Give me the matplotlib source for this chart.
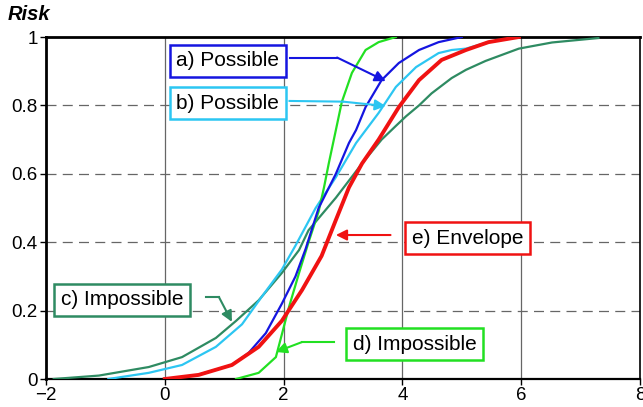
import matplotlib
matplotlib.use("Agg")
import matplotlib.pyplot as plt

plt.rcParams['font.family'] = ['Liberation Sans', 'DejaVu Sans']

# Data
a_x = [0.6, 1.13, 1.41, 1.7, 1.97, 2.2, 2.37, 2.59, 2.88, 3.1, 3.22, 3.38, 3.65, 3.94, 4.28, 4.61, 5.0]
a_y = [0.014, 0.041, 0.076, 0.134, 0.22, 0.30, 0.38, 0.50, 0.60, 0.69, 0.728, 0.795, 0.874, 0.924, 0.962, 0.985, 1.0]

b_x = [-0.95, -0.27, 0.29, 0.86, 1.3, 1.63, 1.97, 2.2, 2.54, 2.88, 3.22, 3.6, 3.89, 4.23, 4.61, 4.83, 5.07, 5.45, 5.96]
b_y = [0.0, 0.018, 0.041, 0.094, 0.16, 0.24, 0.32, 0.39, 0.50, 0.59, 0.69, 0.778, 0.854, 0.912, 0.953, 0.962, 0.966, 0.985, 1.0]

c_x = [-1.87, -1.11, -0.27, 0.29, 0.86, 1.2, 1.58, 1.97, 2.26, 2.42, 2.88, 3.32, 3.65, 3.89, 4.06, 4.28, 4.49, 4.83, 5.07, 5.4, 5.96, 6.52, 7.3]
c_y = [0.0, 0.01, 0.035, 0.064, 0.12, 0.17, 0.23, 0.31, 0.377, 0.435, 0.53, 0.63, 0.70, 0.74, 0.768, 0.80, 0.835, 0.88, 0.904, 0.93, 0.966, 0.984, 0.997]

d_x = [1.2, 1.58, 1.87, 1.97, 2.09, 2.26, 2.42, 2.59, 2.68, 2.76, 2.88, 2.98, 3.15, 3.38, 3.6, 3.89]
d_y = [0.0, 0.018, 0.064, 0.13, 0.21, 0.31, 0.40, 0.49, 0.56, 0.63, 0.728, 0.81, 0.895, 0.962, 0.985, 1.0]

e_x = [0.0, 0.57, 1.13, 1.58, 1.97, 2.31, 2.64, 2.88, 3.1, 3.32, 3.6, 3.94, 4.28, 4.66, 5.07, 5.45, 5.96]
e_y = [0.0, 0.012, 0.041, 0.094, 0.17, 0.26, 0.36, 0.465, 0.56, 0.63, 0.70, 0.795, 0.874, 0.933, 0.962, 0.985, 1.0]

x_ticks = [-2, 0, 2, 4, 6, 8]
y_ticks = [0, 0.2, 0.4, 0.6, 0.8, 1]
y_ticklabels = ['0', '0.2', '0.4', '0.6', '0.8', '1']

BLUE = '#1515e0'
CYAN = '#2cc6f2'
TEAL = '#2e8b62'
GREEN = '#22e022'
RED = '#f01212'

fig = plt.figure(figsize=(6.43, 4.07), dpi=100)
ax = fig.add_axes([46/643, 1-379/407, (640-46)/643, (379-37)/407])
ax.set_xlim(-2, 8)
ax.set_ylim(0, 1)

# grid
for xv in [0, 2, 4, 6]:
    ax.axvline(xv, color='#666666', lw=0.9, zorder=1)
for yv in [0.2, 0.4, 0.6, 0.8]:
    ax.axhline(yv, color='#666666', lw=0.9, ls=(0, (8, 5)), zorder=1)

ax.plot(c_x, c_y, color=TEAL, lw=1.6, zorder=3)
ax.plot(b_x, b_y, color=CYAN, lw=1.6, zorder=3)
ax.plot(d_x, d_y, color=GREEN, lw=1.6, zorder=3)
ax.plot(a_x, a_y, color=BLUE, lw=1.6, zorder=4)
ax.plot(e_x, e_y, color=RED, lw=2.8, zorder=5)

ax.set_xticks(x_ticks)
ax.set_yticks(y_ticks)
ax.set_yticklabels(y_ticklabels)
ax.tick_params(labelsize=13.5, direction='out', length=4, width=1, pad=2)
for s in ax.spines.values():
    s.set_linewidth(1.2)
ax.spines['left'].set_linewidth(2)
ax.spines['bottom'].set_linewidth(1.6)
ax.spines['top'].set_linewidth(2)

fig.text(8/643, 1-14/407, 'Risk', fontsize=14.5, fontweight='bold', fontstyle='italic', va='center', ha='left')

def label(x, y, txt, col):
    ax.text(x, y, txt, fontsize=15, ha='center', va='center', zorder=10,
            bbox=dict(boxstyle='square,pad=0.32', fc='white', ec=col, lw=1.8))

def arrow(pts, col):
    xs = [p[0] for p in pts[:-1]]
    ys = [p[1] for p in pts[:-1]]
    ax.plot(xs, ys, color=col, lw=1.5, zorder=9)
    ax.annotate('', xy=pts[-1], xytext=pts[-2], zorder=9,
                arrowprops=dict(arrowstyle='-|>', color=col, lw=1.5,
                                mutation_scale=16, shrinkA=0, shrinkB=0))

label(1.06, 0.93, 'a) Possible', BLUE)
arrow([(2.1, 0.94), (2.9, 0.94), (3.72, 0.871)], BLUE)
label(1.06, 0.807, 'b) Possible', CYAN)
arrow([(2.1, 0.813), (3.0, 0.811), (3.72, 0.798)], CYAN)
label(-0.72, 0.231, 'c) Impossible', TEAL)
arrow([(0.69, 0.24), (0.91, 0.24), (1.13, 0.167)], TEAL)
label(4.21, 0.102, 'd) Impossible', GREEN)
arrow([(2.85, 0.108), (2.31, 0.108), (1.87, 0.079)], GREEN)
label(5.10, 0.412, 'e) Envelope', RED)
arrow([(3.80, 0.421), (2.88, 0.421)], RED)

fig.savefig('out.png', dpi=100)
